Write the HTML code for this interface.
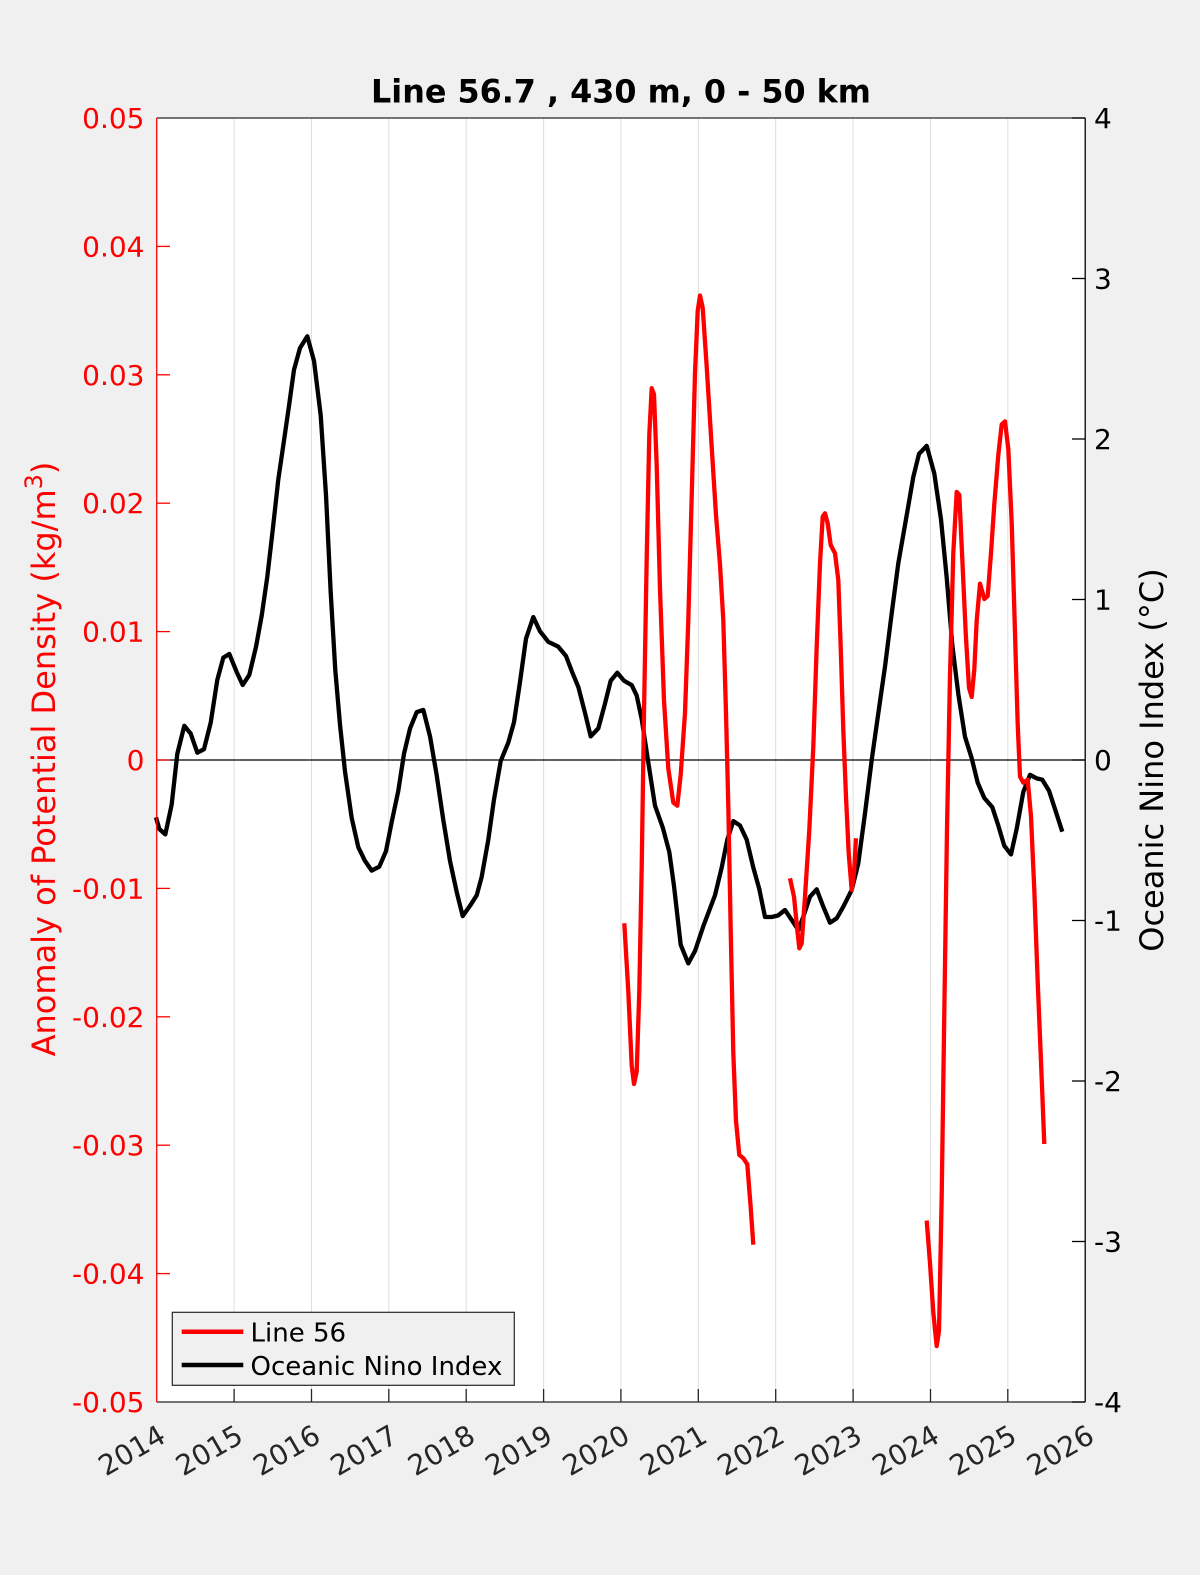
<!DOCTYPE html>
<html>
<head>
<meta charset="utf-8">
<style>
  html, body { margin:0; padding:0; background:#f0f0f0; }
  svg { display:block; }
  text { font-family: "DejaVu Sans", "Liberation Sans", sans-serif; }
</style>
</head>
<body>
<svg width="1200" height="1575" viewBox="0 0 1200 1575" xmlns="http://www.w3.org/2000/svg">
  <rect x="0" y="0" width="1200" height="1575" fill="#f0f0f0"/>
  <!-- axes area -->
  <rect x="156.7" y="118" width="928.5" height="1284" fill="#ffffff"/>

  <!-- vertical grid lines -->
  <g stroke="#dedede" stroke-width="1">
    <line x1="234.1" y1="118" x2="234.1" y2="1402"/>
    <line x1="311.5" y1="118" x2="311.5" y2="1402"/>
    <line x1="388.8" y1="118" x2="388.8" y2="1402"/>
    <line x1="466.2" y1="118" x2="466.2" y2="1402"/>
    <line x1="543.6" y1="118" x2="543.6" y2="1402"/>
    <line x1="620.9" y1="118" x2="620.9" y2="1402"/>
    <line x1="698.3" y1="118" x2="698.3" y2="1402"/>
    <line x1="775.7" y1="118" x2="775.7" y2="1402"/>
    <line x1="853.1" y1="118" x2="853.1" y2="1402"/>
    <line x1="930.5" y1="118" x2="930.5" y2="1402"/>
    <line x1="1007.8" y1="118" x2="1007.8" y2="1402"/>
  </g>

  <!-- zero line -->
  <line x1="156.7" y1="760" x2="1085.2" y2="760" stroke="#000" stroke-width="1.3"/>

  <!-- Oceanic Nino Index (black) -->
  <polyline fill="none" stroke="#000" stroke-width="4.3" stroke-linejoin="round" stroke-linecap="butt" points="
156,817.3 159.3,829 165.3,834.4 171.7,804.4 177.3,753.8 184.3,725.8 190.7,733.6 197.3,752.7 204,749.2 210.7,722.7
217.3,679.9 223.3,657.7 229.3,653.9 236.7,672.1 242.7,685 249.3,674.9 256,646.8 261.7,615.7 267.3,576.8 272.7,530.1
278.3,479.5 284,440.6 289.3,403.7 294,369.8 300,348 307.3,336.3 314,360.9 320.7,415.3 326,495.1 330.7,592.4
335.3,670.2 340,724.7 345,771.4 351.7,818 358.3,847.2 365,860.9 371.7,870.6 379.3,866.7 386,851.1 391.7,822
398.3,790.8 404,753.8 410,728.6 416.7,712.2 423.3,709.9 430,736.3 436.7,775.3 443.3,820 450,860.9 456.7,892
462.7,916.1 470,905.8 476.7,895.3 481.7,876.8 488.3,839.7 494,799.5 500.7,761.1 508.3,742.6 514,722.2 520,682
526,638.7 533.3,617 540,631.3 548.3,641.8 558.3,646.7 566,656 571.7,670.9 578.3,686.9 585,712.9 590.7,736.4
598.3,728.4 605,703.6 610.7,680.7 617.3,672.7 624,680.7 631.7,685.1 636.7,695.6 641.7,719.1 648.3,762.4 655,805.7
662.7,827.3 669.3,852 674,886 680.7,944.8 688.3,963.4 695,951 703.3,926.3 715,895.3 721.7,867.5 727.3,839.7
733.3,821.1 740,825.5 746.7,839.7 753.3,867.5 759.3,889.1 765,917 771.7,917 778,915.5 785,910 791.7,920
798.3,930 803.3,916.7 810,896.7 816.7,889.3 823.3,906.7 830,922.7 836.7,918.3 843.3,906.7 851.7,890 858.3,863.3
865,813.3 871.7,760 878.3,713.3 885,666.7 891.7,613.3 898.3,563.3 905,525 913.3,477 919,453.9 926.7,445.9
934.3,473.5 941,519.4 946.7,577.6 952.3,645 958.3,693.9 965,736.8 971.7,758.2 977.7,782.7 984.3,798 992.3,807.2
998.3,825.6 1004.3,845.8 1011,854.4 1016.7,828.7 1023.3,791.9 1030,774.8 1036.7,778.4 1042.3,779.7 1049,790.7 1055,809.1
1062.3,831.7"/>

  <!-- Line 56 (red) -->
  <g fill="none" stroke="#ff0000" stroke-width="4.3" stroke-linejoin="round" stroke-linecap="butt">
    <polyline points="
624.3,923.2 628.3,991.2 631.7,1065.4 634,1084 636.7,1071.6 639.3,991.2 641.7,867.5 644,712.9 646.7,558.3 649.3,434.6
651.7,388.2 654,394.4 656.7,465.5 660,589.2 664,700.5 668.3,768.6 673.3,802.6 677.3,805.7 680.7,774.8 685,712.9
688.3,620.1 691.7,496.4 695,372.8 697.7,310.9 700,295.5 702.7,307.8 706.7,366.6 711.7,447 716,515 720,564.5
723.3,620.1 726,712.9 728.3,805.7 730.7,929.4 733.3,1053 736,1121 739.3,1155 743.3,1158.2 747.3,1164.3 750.7,1207.6
753.3,1244.7"/>
    <polyline points="
790,878.3 794,896.7 797.3,930 799.3,948.3 801.7,943.3 805,896.7 809.3,830 813.3,746.7 816.7,646.7 820,563.3
822.7,516.7 825,513.3 827.7,523.3 830.7,545 835,553.3 838.3,580 840.7,646.7 843.3,730 846,796.7 848.7,853.3
851.7,890 854,873.3 856,838.3"/>
    <polyline points="
926.7,1220.6 930,1263.4 933.3,1312.4 936.7,1346.1 939,1330.8 941.7,1196.1 944.3,1012.4 947,828.7 950,675.6 953.3,553.1
956.7,491.9 959.3,494.9 962.3,559.2 965.7,632.7 969,687.8 971.7,697 974.3,669.4 976.7,620.5 980,583.7 984.3,599
987.7,596 991,553.1 994.3,504.1 998.3,455.1 1001.7,424.5 1005,421.4 1008.3,449 1011.7,522.5 1015,632.7 1017.7,724.6
1020,776.6 1023.3,782.7 1027.7,779.7 1031,816.4 1034.3,889.9 1037.7,981.7 1041,1061.4 1044.3,1144"/>
  </g>

  <!-- axes box lines -->
  <line x1="156.7" y1="118" x2="1085.2" y2="118" stroke="#262626" stroke-width="1.3"/>
  <line x1="156.7" y1="1402" x2="1085.2" y2="1402" stroke="#262626" stroke-width="1.3"/>
  <line x1="156.7" y1="118" x2="156.7" y2="1402" stroke="#ff0000" stroke-width="1.3"/>
  <line x1="1085.2" y1="118" x2="1085.2" y2="1402" stroke="#000" stroke-width="1.3"/>

  <!-- bottom ticks -->
  <g stroke="#262626" stroke-width="1.3">
    <line x1="234.1" y1="1402" x2="234.1" y2="1389"/>
    <line x1="311.5" y1="1402" x2="311.5" y2="1389"/>
    <line x1="388.8" y1="1402" x2="388.8" y2="1389"/>
    <line x1="466.2" y1="1402" x2="466.2" y2="1389"/>
    <line x1="543.6" y1="1402" x2="543.6" y2="1389"/>
    <line x1="620.9" y1="1402" x2="620.9" y2="1389"/>
    <line x1="698.3" y1="1402" x2="698.3" y2="1389"/>
    <line x1="775.7" y1="1402" x2="775.7" y2="1389"/>
    <line x1="853.1" y1="1402" x2="853.1" y2="1389"/>
    <line x1="930.5" y1="1402" x2="930.5" y2="1389"/>
    <line x1="1007.8" y1="1402" x2="1007.8" y2="1389"/>
  </g>

  <!-- left ticks (red) -->
  <g stroke="#ff0000" stroke-width="1.3">
    <line x1="156.7" y1="246.4" x2="170" y2="246.4"/>
    <line x1="156.7" y1="374.8" x2="170" y2="374.8"/>
    <line x1="156.7" y1="503.2" x2="170" y2="503.2"/>
    <line x1="156.7" y1="631.6" x2="170" y2="631.6"/>
    <line x1="156.7" y1="760" x2="170" y2="760"/>
    <line x1="156.7" y1="888.4" x2="170" y2="888.4"/>
    <line x1="156.7" y1="1016.8" x2="170" y2="1016.8"/>
    <line x1="156.7" y1="1145.2" x2="170" y2="1145.2"/>
    <line x1="156.7" y1="1273.6" x2="170" y2="1273.6"/>
  </g>

  <!-- right ticks (black) -->
  <g stroke="#000" stroke-width="1.3">
    <line x1="1072" y1="118" x2="1085.2" y2="118"/>
    <line x1="1072" y1="278.5" x2="1085.2" y2="278.5"/>
    <line x1="1072" y1="439" x2="1085.2" y2="439"/>
    <line x1="1072" y1="599.5" x2="1085.2" y2="599.5"/>
    <line x1="1072" y1="760" x2="1085.2" y2="760"/>
    <line x1="1072" y1="920.5" x2="1085.2" y2="920.5"/>
    <line x1="1072" y1="1081" x2="1085.2" y2="1081"/>
    <line x1="1072" y1="1241.5" x2="1085.2" y2="1241.5"/>
    <line x1="1072" y1="1402" x2="1085.2" y2="1402"/>
  </g>

  <!-- left tick labels -->
  <g fill="#ff0000" font-size="28" text-anchor="end">
    <text x="144.5" y="128">0.05</text>
    <text x="144.5" y="256.4">0.04</text>
    <text x="144.5" y="384.8">0.03</text>
    <text x="144.5" y="513.2">0.02</text>
    <text x="144.5" y="641.6">0.01</text>
    <text x="144.5" y="770">0</text>
    <text x="144.5" y="898.4">-0.01</text>
    <text x="144.5" y="1026.8">-0.02</text>
    <text x="144.5" y="1155.2">-0.03</text>
    <text x="144.5" y="1283.6">-0.04</text>
    <text x="144.5" y="1412">-0.05</text>
  </g>

  <!-- right tick labels -->
  <g fill="#000" font-size="28" text-anchor="start">
    <text x="1094" y="128">4</text>
    <text x="1094" y="288.5">3</text>
    <text x="1094" y="449">2</text>
    <text x="1094" y="609.5">1</text>
    <text x="1094" y="770">0</text>
    <text x="1094" y="930.5">-1</text>
    <text x="1094" y="1091">-2</text>
    <text x="1094" y="1251.5">-3</text>
    <text x="1094" y="1412">-4</text>
  </g>

  <!-- x tick labels -->
  <g fill="#262626" font-size="28" text-anchor="end">
    <text transform="translate(167.5,1441) rotate(-30)">2014</text>
    <text transform="translate(244.9,1441) rotate(-30)">2015</text>
    <text transform="translate(322.3,1441) rotate(-30)">2016</text>
    <text transform="translate(399.6,1441) rotate(-30)">2017</text>
    <text transform="translate(477,1441) rotate(-30)">2018</text>
    <text transform="translate(554.4,1441) rotate(-30)">2019</text>
    <text transform="translate(631.7,1441) rotate(-30)">2020</text>
    <text transform="translate(709.1,1441) rotate(-30)">2021</text>
    <text transform="translate(786.5,1441) rotate(-30)">2022</text>
    <text transform="translate(863.9,1441) rotate(-30)">2023</text>
    <text transform="translate(941.3,1441) rotate(-30)">2024</text>
    <text transform="translate(1018.6,1441) rotate(-30)">2025</text>
    <text transform="translate(1096,1441) rotate(-30)">2026</text>
  </g>

  <!-- title -->
  <text x="621" y="102.7" font-size="31.8" font-weight="bold" text-anchor="middle" fill="#000">Line 56.7 , 430 m, 0 - 50 km</text>

  <!-- y labels -->
  <text transform="translate(55,759) rotate(-90)" font-size="32" text-anchor="middle" fill="#ff0000">Anomaly of Potential Density (kg/m<tspan font-size="24" dy="-13">3</tspan><tspan dy="13">)</tspan></text>
  <text transform="translate(1163,760) rotate(-90)" font-size="32" text-anchor="middle" fill="#000">Oceanic Nino Index (°C)</text>

  <!-- legend -->
  <rect x="172.3" y="1312.3" width="342" height="73" fill="#f0f0f0" stroke="#262626" stroke-width="1.2"/>
  <line x1="181.7" y1="1331.7" x2="243.3" y2="1331.7" stroke="#ff0000" stroke-width="4.5"/>
  <line x1="181.7" y1="1365" x2="243.3" y2="1365" stroke="#000" stroke-width="4.5"/>
  <text x="250.5" y="1341.7" font-size="26" fill="#000">Line 56</text>
  <text x="250.5" y="1375" font-size="26" fill="#000">Oceanic Nino Index</text>
</svg>
</body>
</html>
